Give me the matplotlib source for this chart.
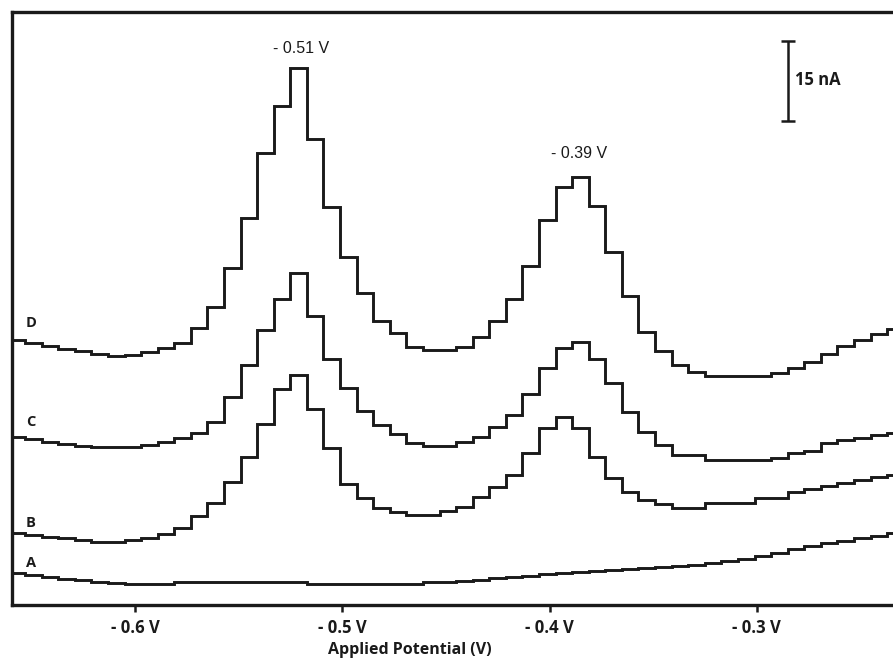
import matplotlib
matplotlib.use("Agg")
import matplotlib.pyplot as plt
import numpy as np

# square-wave voltammograms, one current value (nA) per 8 mV potential step
E_START = -0.6611          # left edge of first potential step (V)
E_STEP = 0.008

curve_a = [6.0, 5.6, 5.3, 4.9, 4.7, 4.3, 4.1, 3.9, 3.9, 3.9,
           4.3, 4.3, 4.3, 4.3, 4.3, 4.3, 4.3, 4.3,
           3.9, 3.9, 3.9, 3.9, 3.9, 3.9, 3.9,
           4.3, 4.3, 4.5, 4.7, 5.1, 5.3, 5.4, 5.8, 6.0, 6.2, 6.4, 6.6, 6.8,
           6.9, 7.1, 7.3, 7.5, 7.9, 8.3, 8.6, 9.2, 9.8, 10.5, 11.1, 11.6,
           12.0, 12.6, 12.9, 13.5]
curve_b = [13.5, 13.1, 12.8, 12.6, 12.2, 11.8, 11.8, 12.2, 12.6, 13.3,
           14.4, 16.7, 19.1, 23.1, 27.8, 33.9, 40.5, 43.1, 36.8, 29.4,
           22.7, 20.1, 18.2, 17.4, 16.9, 16.9, 17.6, 18.4, 20.3, 22.1,
           24.4, 28.5, 33.2, 35.3, 33.2, 27.8, 23.8, 21.2, 19.7, 18.9,
           18.2, 18.2, 19.1, 19.1, 19.1, 20.1, 20.1, 21.2, 21.8, 22.3,
           22.9, 23.4, 24.0, 24.4]
curve_c = [31.5, 31.1, 30.6, 30.2, 29.8, 29.6, 29.6, 29.6, 30.0, 30.6,
           31.3, 32.3, 34.3, 39.0, 45.0, 51.6, 57.4, 62.3, 54.2, 46.1,
           40.7, 36.4, 33.8, 32.1, 30.4, 29.8, 29.8, 30.6, 31.5, 33.4,
           35.6, 39.6, 44.4, 48.2, 49.3, 46.1, 41.6, 36.2, 32.4, 30.0,
           28.1, 28.1, 27.2, 27.2, 27.2, 27.2, 27.6, 28.5, 28.9, 30.4,
           30.9, 31.3, 31.9, 32.3]
curve_d = [49.7, 49.1, 48.6, 48.0, 47.6, 47.1, 46.7, 46.9, 47.4, 48.2,
           49.1, 51.9, 55.9, 63.2, 72.6, 84.8, 93.6, 100.7, 87.4, 74.6,
           65.3, 58.5, 53.3, 51.0, 48.4, 47.8, 47.8, 48.4, 50.3, 53.3,
           57.4, 63.6, 72.2, 78.4, 80.3, 74.8, 66.2, 57.9, 51.2, 47.6,
           45.0, 43.7, 42.9, 42.9, 42.9, 42.9, 43.5, 44.4, 45.6, 47.1,
           48.6, 49.7, 50.8, 51.8]
curves = {"A": curve_a, "B": curve_b, "C": curve_c, "D": curve_d}
label_pos = {"A": 7.9, "B": 15.4, "C": 34.3, "D": 52.9}

tick_pos = [-0.6, -0.5, -0.4, -0.3]
tick_labels = ["- 0.6 V", "- 0.5 V", "- 0.4 V", "- 0.3 V"]
peaks = [(-0.520, 104.4, "- 0.51 V"), (-0.386, 84.6, "- 0.39 V")]

plt.rcParams['font.family'] = ['Open Sans', 'DejaVu Sans']
ink = '#1a1a1a'

fig = plt.figure(figsize=(8.93, 6.59), dpi=100)
ax = fig.add_axes([0.0134, 0.0819, 0.9866, 0.8998])

edges = E_START + E_STEP * np.arange(len(curve_d) + 1)
for name, vals in curves.items():
    ax.stairs(vals, edges, baseline=None, color=ink, lw=2.1)
    ax.text(-0.6502, label_pos[name], name, fontsize=10.5, fontweight='bold',
            color=ink, ha='center', va='center')

for x, y, txt in peaks:
    ax.text(x, y, txt, fontsize=11.5, color=ink, ha='center', va='center',
            family=['Liberation Sans Narrow', 'Liberation Sans', 'DejaVu Sans'])

# 15 nA scale bar
ax.errorbar([-0.285], [98.25], yerr=[7.5], color=ink, lw=1.8,
            capsize=5, capthick=1.8)
ax.text(-0.2815, 98.4, "15 nA", fontsize=12, fontweight='bold',
        color=ink, ha='left', va='center')

ax.set_xlim(-0.6594, -0.2343)
ax.set_ylim(0, 111.2)
ax.set_xticks(tick_pos)
ax.set_xticklabels(tick_labels, fontsize=12, fontweight='bold', color=ink)
ax.set_yticks([])
ax.tick_params(axis='x', direction='out', length=5, width=1.8, pad=5, color=ink)
for s in ['left', 'top', 'bottom']:
    ax.spines[s].set_linewidth(2.4)
    ax.spines[s].set_color(ink)
ax.spines['right'].set_visible(False)

fig.text(410 / 893, 1 - 650 / 659, "Applied Potential (V)", fontsize=11.5,
         fontweight='bold', color=ink, ha='center', va='center')

fig.savefig("out.png", dpi=100)
